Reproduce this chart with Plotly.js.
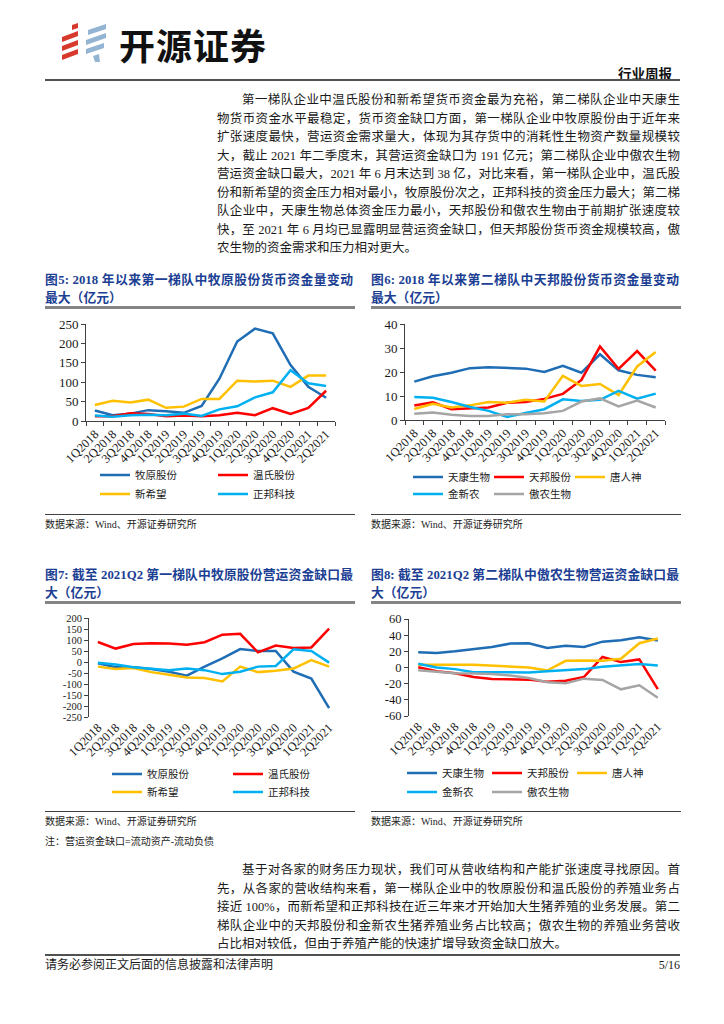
<!DOCTYPE html>
<html lang="zh-CN">
<head>
<meta charset="utf-8">
<script src="https://cdn.plot.ly/plotly-3.0.1.min.js"></script>
<style>
html,body{margin:0;padding:0;background:#fff;}
body{width:724px;height:1024px;position:relative;overflow:hidden;font-family:"Liberation Serif","Noto Sans CJK SC",serif;color:#1a1a1a;}
.a{position:absolute;}
.pl{position:absolute;font-size:12.5px;line-height:18px;height:18px;text-align:justify;text-align-last:justify;}
.pl.last{text-align-last:left;}
.ttl{position:absolute;font-size:12.8px;font-weight:bold;color:#1c3f94;line-height:18px;height:18px;white-space:nowrap;}
.ttl.j{text-align:justify;text-align-last:justify;}
.uline{position:absolute;height:3px;background:#858585;}
.tline{position:absolute;height:1px;background:#404040;}
.src{position:absolute;font-size:10px;line-height:14px;color:#222;white-space:nowrap;}
.chart{position:absolute;}
</style>
</head>
<body>
<!-- header -->
<svg class="a" style="left:56px;top:20px" width="56" height="46" viewBox="0 0 56 46">
  <polygon points="16,5 22,3 22,8 16,10" fill="#d8392d"/>
  <polygon points="6,17 22,11 22,16 6,22" fill="#d8392d"/>
  <polygon points="6,26 22,20 22,25 6,31" fill="#d8392d"/>
  <polygon points="6,35 22,29 22,34 6,40" fill="#d8392d"/>
  <polygon points="32,10 50,4 50,9 32,15" fill="#93b4d2"/>
  <polygon points="30,20 50,13 50,18 30,25" fill="#93b4d2"/>
  <polygon points="30,29 48,23 48,28 30,34" fill="#93b4d2"/>
  <polygon points="37,36 43,34 44,42 39,42" fill="#93b4d2"/>
</svg>
<div class="a" style="left:119px;top:22px;font-family:'Noto Sans CJK SC',sans-serif;font-weight:bold;font-size:36px;line-height:44px;color:#111;letter-spacing:1px;">开源证券</div>
<div class="a" style="right:52px;top:64px;font-family:'Noto Sans CJK SC',sans-serif;font-weight:bold;font-size:13.5px;line-height:18px;color:#111;">行业周报</div>
<div class="a" style="left:45px;top:79px;width:635px;height:2px;background:#505050;"></div>

<!-- paragraph 1 -->
<div class="pl" style="left:242px;width:438px;top:91px;">第一梯队企业中温氏股份和新希望货币资金最为充裕，第二梯队企业中天康生</div>
<div class="pl" style="left:217px;width:463px;top:109.5px;">物货币资金水平最稳定，货币资金缺口方面，第一梯队企业中牧原股份由于近年来</div>
<div class="pl" style="left:217px;width:463px;top:128px;">扩张速度最快，营运资金需求量大，体现为其存货中的消耗性生物资产数量规模较</div>
<div class="pl" style="left:217px;width:463px;top:146.5px;">大，截止 2021 年二季度末，其营运资金缺口为 191 亿元；第二梯队企业中傲农生物</div>
<div class="pl" style="left:217px;width:463px;top:165px;">营运资金缺口最大，2021 年 6 月末达到 38 亿，对比来看，第一梯队企业中，温氏股</div>
<div class="pl" style="left:217px;width:463px;top:183.5px;">份和新希望的资金压力相对最小，牧原股份次之，正邦科技的资金压力最大；第二梯</div>
<div class="pl" style="left:217px;width:463px;top:202px;">队企业中，天康生物总体资金压力最小，天邦股份和傲农生物由于前期扩张速度较</div>
<div class="pl" style="left:217px;width:463px;top:220.5px;">快，至 2021 年 6 月均已显露明显营运资金缺口，但天邦股份货币资金规模较高，傲</div>
<div class="pl last" style="left:217px;width:463px;top:239px;">农生物的资金需求和压力相对更大。</div>

<!-- chart titles row 1 -->
<div class="ttl j" style="left:45px;width:308px;top:271px;">图5:&nbsp;2018 年以来第一梯队中牧原股份货币资金量变动</div>
<div class="ttl" style="left:45px;top:289px;">最大（亿元）</div>
<div class="uline" style="left:45px;width:310px;top:306px;"></div>
<div class="ttl j" style="left:371px;width:308px;top:271px;">图6:&nbsp;2018 年以来第二梯队中天邦股份货币资金量变动</div>
<div class="ttl" style="left:371px;top:289px;">最大（亿元）</div>
<div class="uline" style="left:371px;width:310px;top:306px;"></div>

<div id="c5" class="chart" style="left:45px;top:310px;width:310px;height:200px;"></div>
<div id="c6" class="chart" style="left:371px;top:310px;width:310px;height:200px;"></div>

<div class="tline" style="left:45px;width:310px;top:514px;"></div>
<div class="tline" style="left:371px;width:310px;top:514px;"></div>
<div class="src" style="left:45px;top:518px;">数据来源：Wind、开源证券研究所</div>
<div class="src" style="left:371px;top:518px;">数据来源：Wind、开源证券研究所</div>

<!-- chart titles row 2 -->
<div class="ttl j" style="left:45px;width:308px;top:566px;">图7:&nbsp;截至 2021Q2 第一梯队中牧原股份营运资金缺口最</div>
<div class="ttl" style="left:45px;top:584px;">大（亿元）</div>
<div class="uline" style="left:45px;width:310px;top:601px;"></div>
<div class="ttl j" style="left:371px;width:308px;top:566px;">图8:&nbsp;截至 2021Q2 第二梯队中傲农生物营运资金缺口最</div>
<div class="ttl" style="left:371px;top:584px;">大（亿元）</div>
<div class="uline" style="left:371px;width:310px;top:601px;"></div>

<div id="c7" class="chart" style="left:45px;top:607px;width:310px;height:203px;"></div>
<div id="c8" class="chart" style="left:371px;top:607px;width:310px;height:203px;"></div>

<div class="tline" style="left:45px;width:310px;top:811px;"></div>
<div class="tline" style="left:371px;width:310px;top:811px;"></div>
<div class="src" style="left:45px;top:815px;">数据来源：Wind、开源证券研究所</div>
<div class="src" style="left:371px;top:815px;">数据来源：Wind、开源证券研究所</div>
<div class="src" style="left:45px;top:835px;">注：营运资金缺口=流动资产-流动负债</div>

<!-- paragraph 2 -->
<div class="pl" style="left:242px;width:438px;top:861px;">基于对各家的财务压力现状，我们可从营收结构和产能扩张速度寻找原因。首</div>
<div class="pl" style="left:217px;width:463px;top:879.5px;">先，从各家的营收结构来看，第一梯队企业中的牧原股份和温氏股份的养殖业务占</div>
<div class="pl" style="left:217px;width:463px;top:898px;">接近 100%，而新希望和正邦科技在近三年来才开始加大生猪养殖的业务发展。第二</div>
<div class="pl" style="left:217px;width:463px;top:916.5px;">梯队企业中的天邦股份和金新农生猪养殖业务占比较高；傲农生物的养殖业务营收</div>
<div class="pl last" style="left:217px;width:463px;top:935px;">占比相对较低，但由于养殖产能的快速扩增导致资金缺口放大。</div>

<!-- footer -->
<div class="a" style="left:45px;top:954px;width:635px;height:2px;background:#505050;"></div>
<div class="a" style="left:45px;top:957px;font-size:12px;line-height:16px;white-space:nowrap;">请务必参阅正文后面的信息披露和法律声明</div>
<div class="a" style="right:44px;top:957px;font-size:12px;line-height:16px;">5/16</div>

<script>
// ---------- data ----------
const quarters = ['1Q2018','2Q2018','3Q2018','4Q2018','1Q2019','2Q2019','3Q2019','4Q2019','1Q2020','2Q2020','3Q2020','4Q2020','1Q2021','2Q2021'];

// Fig 5: 货币资金 (亿元), 第一梯队
const c5Muyuan     = [27, 15, 19, 28, 25, 21, 39, 109, 205, 238, 226, 144, 88, 60];
const c5Wens       = [12, 12, 20, 18, 12, 14, 12, 15, 21, 15, 33, 18, 34, 78];
const c5Xinxiwang  = [41, 52, 48, 55, 34, 37, 57, 57, 104, 102, 104, 88, 117, 117];
const c5Zhengbang  = [14, 11, 15, 16, 15, 19, 13, 30, 38, 61, 74, 131, 97, 90];
const c5YTicks = [0, 50, 100, 150, 200, 250];

// Fig 6: 货币资金 (亿元), 第二梯队
const c6Tiankang   = [16.0, 18.2, 19.7, 21.6, 22.0, 21.6, 21.4, 20.0, 22.6, 19.7, 27.4, 20.7, 18.8, 17.8];
const c6Tianbang   = [6.0, 7.4, 4.5, 4.9, 5.2, 7.2, 7.5, 8.8, 10.9, 16.7, 30.6, 21.3, 28.7, 20.6];
const c6Tangrenshen= [4.6, 6.8, 5.2, 6.1, 7.5, 7.2, 8.4, 7.7, 18.4, 14.2, 15.0, 10.4, 22.3, 28.3];
const c6Jinxinnong = [9.6, 9.3, 7.5, 5.4, 3.8, 1.3, 2.9, 4.5, 8.6, 7.9, 8.4, 12.1, 8.9, 11.0];
const c6Aonong     = [2.6, 3.1, 2.2, 1.7, 1.7, 2.4, 2.4, 2.8, 3.8, 7.7, 9.0, 5.7, 8.1, 5.2];
const c6YTicks = [0, 10, 20, 30, 40];

// Fig 7: 营运资金缺口 (亿元), 第一梯队
const c7Muyuan     = [-6, -24, -24, -32, -44, -62, -21, 17, 59, 50, 50, -44, -75, -210];
const c7Wens       = [91, 61, 82, 85, 84, 78, 90, 124, 128, 44, 75, 64, 66, 152];
const c7Xinxiwang  = [-21, -32, -27, -46, -58, -70, -73, -88, -21, -46, -40, -30, 9, -21];
const c7Zhengbang  = [-3, -11, -24, -30, -37, -30, -37, -55, -44, -21, -18, 58, 50, -3];
const c7YTicks = [200, 150, 100, 50, 0, -50, -100, -150, -200, -250];

// Fig 8: 营运资金缺口 (亿元), 第二梯队
const c8Tiankang   = [18.8, 17.9, 20.0, 23.0, 25.4, 29.6, 30.0, 24.2, 27.0, 25.4, 32.0, 33.8, 37.5, 33.3];
const c8Tianbang   = [0.4, -4.6, -7.0, -11.7, -14.2, -15.0, -15.0, -17.5, -16.3, -11.7, 13.0, 6.7, 10.0, -26.7];
const c8Tangrenshen= [3.3, 2.9, 3.3, 3.3, 2.5, 1.7, 0.0, -3.8, 8.3, 8.8, 8.3, 10.8, 30.0, 35.8];
const c8Jinxinnong = [4.6, 0.0, -2.0, -5.8, -5.8, -6.2, -6.2, -4.6, -2.9, -2.0, 0.8, 2.5, 4.2, 2.5];
const c8Aonong     = [-3.3, -5.4, -7.0, -7.5, -7.9, -10.0, -12.9, -18.3, -19.6, -13.8, -15.4, -27.0, -22.0, -37.5];
const c8YTicks = [60, 40, 20, 0, -20, -40, -60];

const tier1Names = ['牧原股份', '温氏股份', '新希望', '正邦科技'];
const tier2Names = ['天康生物', '天邦股份', '唐人神', '金新农', '傲农生物'];

// ---------- styles ----------
const C_BLUE = '#1f6db5', C_RED = '#ff0000', C_YEL = '#ffc000', C_CYAN = '#00b0f0', C_GRAY = '#a5a5a5';
const SERIF = 'Liberation Serif, Times New Roman, serif';
const CJK = 'Noto Sans CJK SC, sans-serif';
const AXC = '#404040';

function draw(id, box, series, yTicks, leg, zeroAxis, yTickSize) {
  const ymin = Math.min.apply(null, yTicks), ymax = Math.max.apply(null, yTicks);
  const plotW = box.pr - box.pl, plotH = box.pb - box.pt;
  const margin = {l: box.pl - box.left, r: box.left + box.w - box.pr, t: box.pt - box.top,
                  b: box.top + box.h - box.pb, pad: 0, autoexpand: false};
  const layout = {
    width: box.w, height: box.h, margin: margin,
    paper_bgcolor: '#ffffff', plot_bgcolor: '#ffffff', showlegend: true,
    xaxis: {type: 'category', range: [-0.5, quarters.length - 0.5], tickson: 'boundaries',
      tickangle: -45, tickfont: {family: SERIF, size: 12.5, color: '#1a1a1a'},
      showgrid: false, zeroline: false, automargin: false,
      showline: !zeroAxis, linecolor: AXC, linewidth: 1,
      ticks: zeroAxis ? '' : 'outside', ticklen: 4, tickcolor: AXC},
    yaxis: {range: [ymin, ymax], tickmode: 'array', tickvals: yTicks, ticktext: yTicks.map(String),
      tickfont: {family: SERIF, size: yTickSize, color: '#1a1a1a'},
      showgrid: false, zeroline: false, showline: true, linecolor: AXC, linewidth: 1,
      ticks: 'outside', ticklen: 4, tickcolor: AXC, automargin: false}
  };
  const traces = series.map((s, i) => {
    const lid = i === 0 ? 'legend' : 'legend' + (i + 1);
    const textX = leg.textX + s.col * leg.step;
    layout[lid] = {orientation: 'h', xanchor: 'left', yanchor: 'middle',
      x: (textX - 40 - box.pl) / plotW,
      y: (box.pb - (s.row === 1 ? leg.row1 : leg.row2)) / plotH,
      bgcolor: 'rgba(0,0,0,0)', borderwidth: 0, itemwidth: 30,
      font: {family: CJK, size: 10.5, color: '#222'}};
    return {type: 'scatter', mode: 'lines', x: quarters, y: s.y, name: s.name, legend: lid,
            line: {color: s.color, width: 2.5}, hoverinfo: 'skip'};
  });
  if (zeroAxis) {
    layout.xaxis2 = {overlaying: 'x', anchor: 'free', position: (0 - ymin) / (ymax - ymin),
      range: [-0.5, quarters.length - 0.5], tickmode: 'linear', tick0: -0.5, dtick: 1,
      ticks: 'outside', ticklen: 4, tickcolor: AXC, showticklabels: false,
      showline: true, linecolor: AXC, linewidth: 1, showgrid: false, zeroline: false, automargin: false};
  }
  Plotly.newPlot(id, traces, layout, {staticPlot: true, displayModeBar: false});
}

draw('c5', {left: 45, top: 310, w: 310, h: 200, pl: 86, pr: 335, pt: 324, pb: 421}, [
  {name: tier1Names[0], y: c5Muyuan, color: C_BLUE, row: 1, col: 0},
  {name: tier1Names[1], y: c5Wens, color: C_RED, row: 1, col: 1},
  {name: tier1Names[2], y: c5Xinxiwang, color: C_YEL, row: 2, col: 0},
  {name: tier1Names[3], y: c5Zhengbang, color: C_CYAN, row: 2, col: 1}
], c5YTicks, {textX: 135, step: 118, row1: 475, row2: 494}, false, 13);

draw('c6', {left: 371, top: 310, w: 310, h: 200, pl: 405, pr: 665, pt: 324, pb: 420}, [
  {name: tier2Names[0], y: c6Tiankang, color: C_BLUE, row: 1, col: 0},
  {name: tier2Names[1], y: c6Tianbang, color: C_RED, row: 1, col: 1},
  {name: tier2Names[2], y: c6Tangrenshen, color: C_YEL, row: 1, col: 2},
  {name: tier2Names[3], y: c6Jinxinnong, color: C_CYAN, row: 2, col: 0},
  {name: tier2Names[4], y: c6Aonong, color: C_GRAY, row: 2, col: 1}
], c6YTicks, {textX: 448, step: 81, row1: 477, row2: 494}, false, 13);

draw('c7', {left: 45, top: 607, w: 310, h: 203, pl: 89, pr: 338, pt: 618, pb: 717}, [
  {name: tier1Names[0], y: c7Muyuan, color: C_BLUE, row: 1, col: 0},
  {name: tier1Names[1], y: c7Wens, color: C_RED, row: 1, col: 1},
  {name: tier1Names[2], y: c7Xinxiwang, color: C_YEL, row: 2, col: 0},
  {name: tier1Names[3], y: c7Zhengbang, color: C_CYAN, row: 2, col: 1}
], c7YTicks, {textX: 147, step: 121, row1: 774, row2: 792}, true, 10.5);

draw('c8', {left: 371, top: 607, w: 310, h: 203, pl: 409, pr: 667, pt: 619, pb: 716}, [
  {name: tier2Names[0], y: c8Tiankang, color: C_BLUE, row: 1, col: 0},
  {name: tier2Names[1], y: c8Tianbang, color: C_RED, row: 1, col: 1},
  {name: tier2Names[2], y: c8Tangrenshen, color: C_YEL, row: 1, col: 2},
  {name: tier2Names[3], y: c8Jinxinnong, color: C_CYAN, row: 2, col: 0},
  {name: tier2Names[4], y: c8Aonong, color: C_GRAY, row: 2, col: 1}
], c8YTicks, {textX: 442, step: 85, row1: 773, row2: 792}, true, 12.5);
</script>
</body>
</html>
